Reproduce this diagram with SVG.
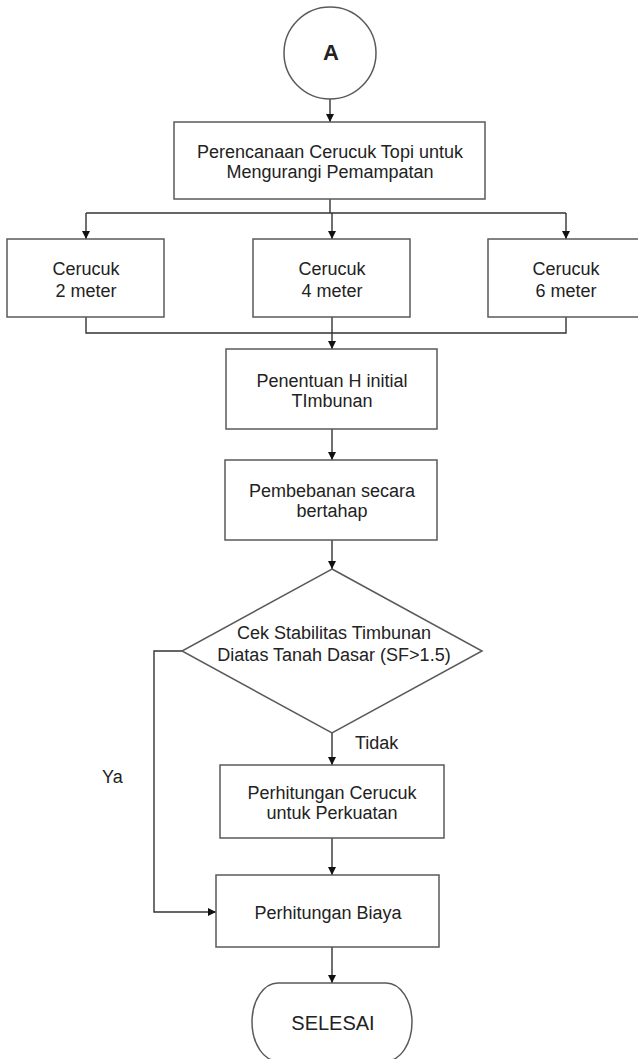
<svg xmlns="http://www.w3.org/2000/svg" width="638" height="1059" viewBox="0 0 638 1059">
<style>
.shape{fill:#fff;stroke:#5a5a5a;stroke-width:1.5}
.line{fill:none;stroke:#333;stroke-width:1.4}
.t{font-family:"Liberation Sans",Arial,sans-serif;font-size:18px;fill:#222;text-anchor:middle}
.lbl{font-family:"Liberation Sans",Arial,sans-serif;font-size:18px;fill:#222}
</style>
<defs>
<marker id="arr" viewBox="0 0 10 10" refX="10" refY="5" markerWidth="8" markerHeight="8" markerUnits="userSpaceOnUse" orient="auto">
<path d="M0,0 L10,5 L0,10 z" fill="#111"/>
</marker>
</defs>
<rect width="638" height="1059" fill="#fff"/>
<g id="connectors">
<path class="line" d="M330,99 V122" marker-end="url(#arr)"/>
<path class="line" d="M330,199 V213"/>
<path class="line" d="M86,213 H566"/>
<path class="line" d="M86,213 V239" marker-end="url(#arr)"/>
<path class="line" d="M332,213 V239" marker-end="url(#arr)"/>
<path class="line" d="M566,213 V239" marker-end="url(#arr)"/>
<path class="line" d="M86,317 V333 H566 V317"/>
<path class="line" d="M332,317 V333"/>
<path class="line" d="M332,333 V349" marker-end="url(#arr)"/>
<path class="line" d="M332,429 V460" marker-end="url(#arr)"/>
<path class="line" d="M332,540 V569" marker-end="url(#arr)"/>
<path class="line" d="M332,733 V765" marker-end="url(#arr)"/>
<path class="line" d="M332,838 V875" marker-end="url(#arr)"/>
<path class="line" d="M182,651 H154 V912 H216" marker-end="url(#arr)"/>
<path class="line" d="M332,947 V983" marker-end="url(#arr)"/>
<text class="lbl" x="355" y="749">Tidak</text>
<text class="lbl" x="102" y="783">Ya</text>
</g>
<g id="nodeA">
<circle class="shape" cx="330" cy="53" r="46"/>
<text class="t" x="331" y="60" style="font-size:22px;font-weight:bold">A</text>
</g>
<g id="perencanaan">
<rect class="shape" x="174" y="122" width="311" height="77"/>
<text class="t" x="330" y="158">Perencanaan Cerucuk Topi untuk</text>
<text class="t" x="330" y="178">Mengurangi Pemampatan</text>
</g>
<g id="cerucuk2">
<rect class="shape" x="7" y="239" width="157" height="78"/>
<text class="t" x="86" y="275">Cerucuk</text>
<text class="t" x="86" y="297">2 meter</text>
</g>
<g id="cerucuk4">
<rect class="shape" x="253" y="239" width="157" height="78"/>
<text class="t" x="332" y="275">Cerucuk</text>
<text class="t" x="332" y="297">4 meter</text>
</g>
<g id="cerucuk6">
<rect class="shape" x="488" y="239" width="157" height="78"/>
<text class="t" x="566" y="275">Cerucuk</text>
<text class="t" x="566" y="297">6 meter</text>
</g>
<g id="penentuan">
<rect class="shape" x="226" y="349" width="211" height="80"/>
<text class="t" x="332" y="387">Penentuan H initial</text>
<text class="t" x="332" y="407">TImbunan</text>
</g>
<g id="pembebanan">
<rect class="shape" x="225" y="460" width="212" height="80"/>
<text class="t" x="332" y="497">Pembebanan secara</text>
<text class="t" x="332" y="517">bertahap</text>
</g>
<g id="cek">
<polygon class="shape" points="332,569 482,651 332,733 182,651"/>
<text class="t" x="334" y="639">Cek Stabilitas Timbunan</text>
<text class="t" x="334" y="661">Diatas Tanah Dasar (SF&gt;1.5)</text>
</g>
<g id="perhitunganCerucuk">
<rect class="shape" x="220" y="765" width="224" height="73"/>
<text class="t" x="332" y="799">Perhitungan Cerucuk</text>
<text class="t" x="332" y="819">untuk Perkuatan</text>
</g>
<g id="biaya">
<rect class="shape" x="216" y="875" width="223" height="72"/>
<text class="t" x="328" y="919">Perhitungan Biaya</text>
</g>
<g id="selesai">
<rect class="shape" x="252" y="983" width="160" height="78" rx="26" ry="39"/>
<text class="t" x="333" y="1030" style="font-size:20px">SELESAI</text>
</g>
</svg>
